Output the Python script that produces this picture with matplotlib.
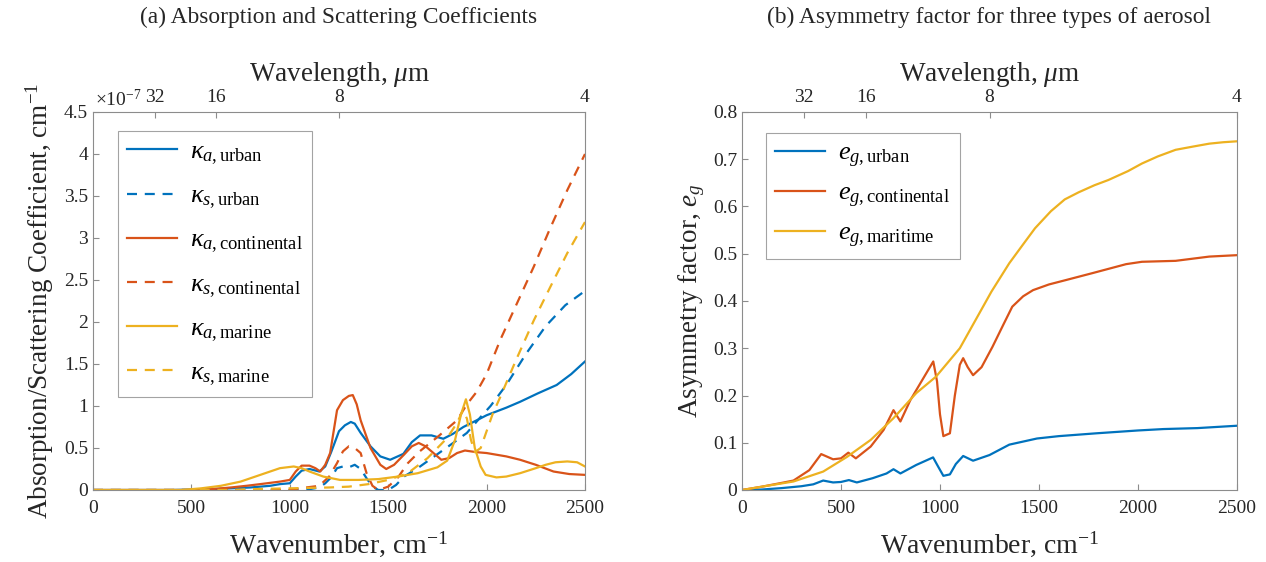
import numpy as np
import matplotlib
matplotlib.use('Agg')
import matplotlib.pyplot as plt

plt.rcParams['font.family'] = ['Liberation Serif', 'DejaVu Serif']
plt.rcParams['mathtext.fontset'] = 'custom'
plt.rcParams['mathtext.rm'] = 'Liberation Serif'
plt.rcParams['mathtext.it'] = 'Liberation Serif:italic'
plt.rcParams['mathtext.bf'] = 'Liberation Serif:bold'

# ---- panel (a) data, coefficients in units of 1e-7 cm^-1 ----
wn_ka_urban = [0, 400, 500, 600, 700, 800, 900, 950, 1000, 1030, 1060, 1100, 1150, 1180, 1210,
               1250, 1280, 1310, 1330, 1360, 1410, 1460, 1510, 1577, 1620, 1662, 1720, 1780,
               1830, 1882, 1950, 2000, 2100, 2170, 2260, 2356, 2430, 2500]
ka_urban = [0, 0, 0.005, 0.01, 0.02, 0.03, 0.05, 0.07, 0.08, 0.16, 0.23, 0.25, 0.22, 0.28, 0.45,
            0.7, 0.77, 0.81, 0.79, 0.68, 0.52, 0.4, 0.36, 0.43, 0.57, 0.65, 0.65, 0.61,
            0.67, 0.75, 0.83, 0.89, 0.98, 1.05, 1.15, 1.25, 1.38, 1.53]

wn_ka_cont = [0, 500, 600, 700, 780, 850, 950, 1000, 1030, 1060, 1100, 1130, 1155, 1180, 1205,
              1240, 1270, 1300, 1320, 1340, 1360, 1410, 1460, 1490, 1530, 1580, 1620, 1655,
              1690, 1720, 1770, 1810, 1850, 1890, 1950, 2000, 2100, 2170, 2250, 2340, 2420, 2500]
ka_cont = [0, 0, 0.01, 0.03, 0.05, 0.07, 0.1, 0.12, 0.22, 0.29, 0.29, 0.26, 0.22, 0.3, 0.44,
           0.95, 1.07, 1.12, 1.13, 1.02, 0.83, 0.5, 0.3, 0.25, 0.3, 0.42, 0.52, 0.56,
           0.52, 0.46, 0.36, 0.38, 0.44, 0.47, 0.45, 0.44, 0.4, 0.36, 0.3, 0.22, 0.19, 0.18]

wn_ka_mar = [0, 450, 550, 650, 750, 850, 950, 1020, 1060, 1100, 1170, 1255, 1350, 1450, 1550,
             1650, 1750, 1800, 1840, 1870, 1895, 1915, 1940, 1970, 1995, 2050, 2100, 2170,
             2250, 2300, 2350, 2410, 2460, 2500]
ka_mar = [0, 0, 0.02, 0.05, 0.1, 0.18, 0.26, 0.28, 0.26, 0.22, 0.16, 0.12, 0.12, 0.13, 0.16,
          0.2, 0.27, 0.35, 0.6, 0.9, 1.08, 0.9, 0.5, 0.28, 0.18, 0.15, 0.16, 0.2,
          0.26, 0.3, 0.33, 0.34, 0.33, 0.28]

wn_ks_urban = [0, 1000, 1100, 1150, 1180, 1210, 1240, 1270, 1300, 1330, 1360, 1390, 1420, 1450,
               1500, 1540, 1580, 1650, 1710, 1770, 1830, 1900, 1970, 2020, 2100, 2200, 2300,
               2400, 2500]
ks_urban = [0, 0, 0.01, 0.03, 0.08, 0.15, 0.26, 0.28, 0.27, 0.3, 0.25, 0.14, 0.04, 0.0,
            0.0, 0.06, 0.16, 0.26, 0.36, 0.46, 0.56, 0.68, 0.87, 1.0, 1.25, 1.62, 1.95,
            2.2, 2.37]

wn_ks_cont = [0, 1000, 1050, 1150, 1200, 1240, 1270, 1300, 1330, 1360, 1390, 1420, 1450, 1500,
              1550, 1600, 1660, 1750, 1850, 1900, 1950, 2000, 2070, 2150, 2240, 2320, 2410, 2500]
ks_cont = [0, 0, 0.02, 0.05, 0.16, 0.32, 0.46, 0.52, 0.5, 0.44, 0.2, 0.05, 0.0, 0.04,
           0.15, 0.32, 0.46, 0.63, 0.83, 1.02, 1.17, 1.38, 1.79, 2.2, 2.66, 3.1, 3.57, 4.0]

wn_ks_mar = [0, 700, 800, 1000, 1200, 1300, 1400, 1500, 1600, 1700, 1800, 1850, 1880, 1900,
             1920, 1940, 1970, 2000, 2030, 2070, 2150, 2240, 2320, 2410, 2500]
ks_mar = [0, 0, 0.01, 0.02, 0.03, 0.04, 0.07, 0.12, 0.2, 0.38, 0.62, 0.8, 0.95, 0.85,
          0.6, 0.45, 0.5, 0.7, 0.9, 1.11, 1.55, 2.02, 2.4, 2.82, 3.19]

# ---- panel (b) data, asymmetry factor ----
wn_eg_urban = [0, 100, 200, 300, 360, 410, 460, 500, 540, 580, 660, 730, 765, 800, 880, 965,
               990, 1017, 1050, 1080, 1117, 1167, 1250, 1350, 1490, 1600, 1790, 2000, 2130,
               2300, 2500]
eg_urban = [0, 0.001, 0.004, 0.008, 0.012, 0.02, 0.016, 0.017, 0.021, 0.016, 0.025, 0.035,
            0.044, 0.035, 0.053, 0.069, 0.05, 0.03, 0.033, 0.055, 0.072, 0.062, 0.074, 0.096,
            0.109, 0.114, 0.12, 0.126, 0.129, 0.131, 0.136]

wn_eg_cont = [0, 100, 200, 260, 340, 400, 460, 500, 537, 575, 650, 715, 765, 800, 850, 915,
              966, 985, 1000, 1017, 1050, 1075, 1100, 1117, 1140, 1167, 1210, 1265, 1320, 1365,
              1420, 1470, 1550, 1633, 1770, 1940, 2020, 2190, 2360, 2500]
eg_cont = [0, 0.007, 0.015, 0.02, 0.042, 0.076, 0.065, 0.067, 0.079, 0.067, 0.092, 0.127,
           0.169, 0.145, 0.19, 0.236, 0.272, 0.23, 0.16, 0.114, 0.12, 0.2, 0.265, 0.279,
           0.26, 0.243, 0.26, 0.303, 0.35, 0.388, 0.41, 0.423, 0.435, 0.444, 0.459, 0.478,
           0.483, 0.485, 0.494, 0.497]

wn_eg_mar = [0, 100, 260, 410, 530, 650, 765, 880, 980, 1100, 1180, 1260, 1350, 1420, 1480,
             1560, 1630, 1700, 1780, 1850, 1950, 2020, 2100, 2190, 2280, 2360, 2430, 2500]
eg_mar = [0, 0.007, 0.018, 0.039, 0.07, 0.106, 0.152, 0.205, 0.24, 0.3, 0.36, 0.42, 0.48,
          0.52, 0.554, 0.59, 0.615, 0.63, 0.645, 0.656, 0.675, 0.691, 0.706, 0.72, 0.727,
          0.733, 0.736, 0.738]

wavelength_ticks = [32, 16, 8, 4]

c_blue = '#0072BD'
c_orange = '#D95319'
c_yellow = '#EDB120'
spine_c = '#8c8c8c'
txt_c = '#262626'
lw = 1.6
dash = (4.5, 3.5)


def style_axes(ax, top_label_pad=6):
    for sp in ax.spines.values():
        sp.set_color(spine_c)
        sp.set_linewidth(0.8)
    ax.tick_params(axis='both', direction='in', length=4, width=0.8, color=spine_c,
                   labelsize=14, labelcolor=txt_c, top=False, right=False)
    ax.tick_params(axis='x', pad=7)
    ax.set_xlim(0, 2500)
    ax.set_xticks([0, 500, 1000, 1500, 2000, 2500])
    ax.set_xlabel('Wavenumber, cm$^{-1}$', fontsize=20, color=txt_c, labelpad=9)
    # wavelength axis on top
    axt = ax.twiny()
    axt.set_xlim(ax.get_xlim())
    axt.set_xticks([10000.0 / w for w in wavelength_ticks])
    axt.set_xticklabels([str(w) for w in wavelength_ticks])
    axt.tick_params(axis='x', direction='in', length=4, width=0.8, color=spine_c,
                    labelsize=14, labelcolor=txt_c, pad=4)
    for sp in axt.spines.values():
        sp.set_visible(False)
    axt.set_xlabel(r'Wavelength, $\mu$m', fontsize=19.5, color=txt_c, labelpad=top_label_pad)
    return axt


fig = plt.figure(figsize=(12.66, 5.62), dpi=100)
ax1 = fig.add_axes([93 / 1266, 1 - 490 / 562, 492 / 1266, 378 / 562])
ax2 = fig.add_axes([742 / 1266, 1 - 490 / 562, 495 / 1266, 378 / 562])

# ---- (a) ----
ax1.plot(wn_ka_urban, ka_urban, color=c_blue, lw=lw, label=r'$\kappa_{a,\mathrm{urban}}$')
ax1.plot(wn_ks_urban, ks_urban, color=c_blue, lw=lw, dashes=dash, label=r'$\kappa_{s,\mathrm{urban}}$')
ax1.plot(wn_ka_cont, ka_cont, color=c_orange, lw=lw, label=r'$\kappa_{a,\mathrm{continental}}$')
ax1.plot(wn_ks_cont, ks_cont, color=c_orange, lw=lw, dashes=dash, label=r'$\kappa_{s,\mathrm{continental}}$')
ax1.plot(wn_ka_mar, ka_mar, color=c_yellow, lw=lw, label=r'$\kappa_{a,\mathrm{marine}}$')
ax1.plot(wn_ks_mar, ks_mar, color=c_yellow, lw=lw, dashes=dash, label=r'$\kappa_{s,\mathrm{marine}}$')
ax1.set_ylim(0, 4.5)
ax1.set_yticks(np.arange(0, 4.51, 0.5))
ax1.set_yticklabels(['0', '0.5', '1', '1.5', '2', '2.5', '3', '3.5', '4', '4.5'])
style_axes(ax1)
ax1.set_ylabel('Absorption/Scattering Coefficient, cm$^{-1}$', fontsize=19.5, color=txt_c, labelpad=6)
ax1.text(0.005, 1.005, r'$\times$10$^{-7}$', transform=ax1.transAxes, fontsize=14,
         color=txt_c, ha='left', va='bottom')
leg1 = ax1.legend(loc='upper left', bbox_to_anchor=(0.05, 0.95), fontsize=19, frameon=True,
                  fancybox=False, edgecolor=spine_c, handlelength=1.9, handletextpad=0.5,
                  labelspacing=0.65, borderpad=0.35, borderaxespad=0)
leg1.get_frame().set_linewidth(0.8)

# ---- (b) ----
ax2.plot(wn_eg_urban, eg_urban, color=c_blue, lw=lw, label=r'$e_{g,\mathrm{urban}}$')
ax2.plot(wn_eg_cont, eg_cont, color=c_orange, lw=lw, label=r'$e_{g,\mathrm{continental}}$')
ax2.plot(wn_eg_mar, eg_mar, color=c_yellow, lw=lw, label=r'$e_{g,\mathrm{maritime}}$')
ax2.set_ylim(0, 0.8)
ax2.set_yticks(np.arange(0, 0.81, 0.1))
ax2.set_yticklabels(['0', '0.1', '0.2', '0.3', '0.4', '0.5', '0.6', '0.7', '0.8'])
style_axes(ax2)
ax2.set_ylabel(r'Asymmetry factor, $e_g$', fontsize=19.5, color=txt_c, labelpad=4)
leg2 = ax2.legend(loc='upper left', bbox_to_anchor=(0.048, 0.945), fontsize=19, frameon=True,
                  fancybox=False, edgecolor=spine_c, handlelength=1.9, handletextpad=0.5,
                  labelspacing=0.45, borderpad=0.35, borderaxespad=0)
leg2.get_frame().set_linewidth(0.8)

fig.text((93 + 246) / 1266, 1 - 17 / 562, '(a) Absorption and Scattering Coefficients',
         fontsize=16.8, color=txt_c, ha='center', va='center')
fig.text((742 + 247) / 1266, 1 - 17 / 562, '(b) Asymmetry factor for three types of aerosol',
         fontsize=16.8, color=txt_c, ha='center', va='center')

fig.savefig('out.png', dpi=100)
